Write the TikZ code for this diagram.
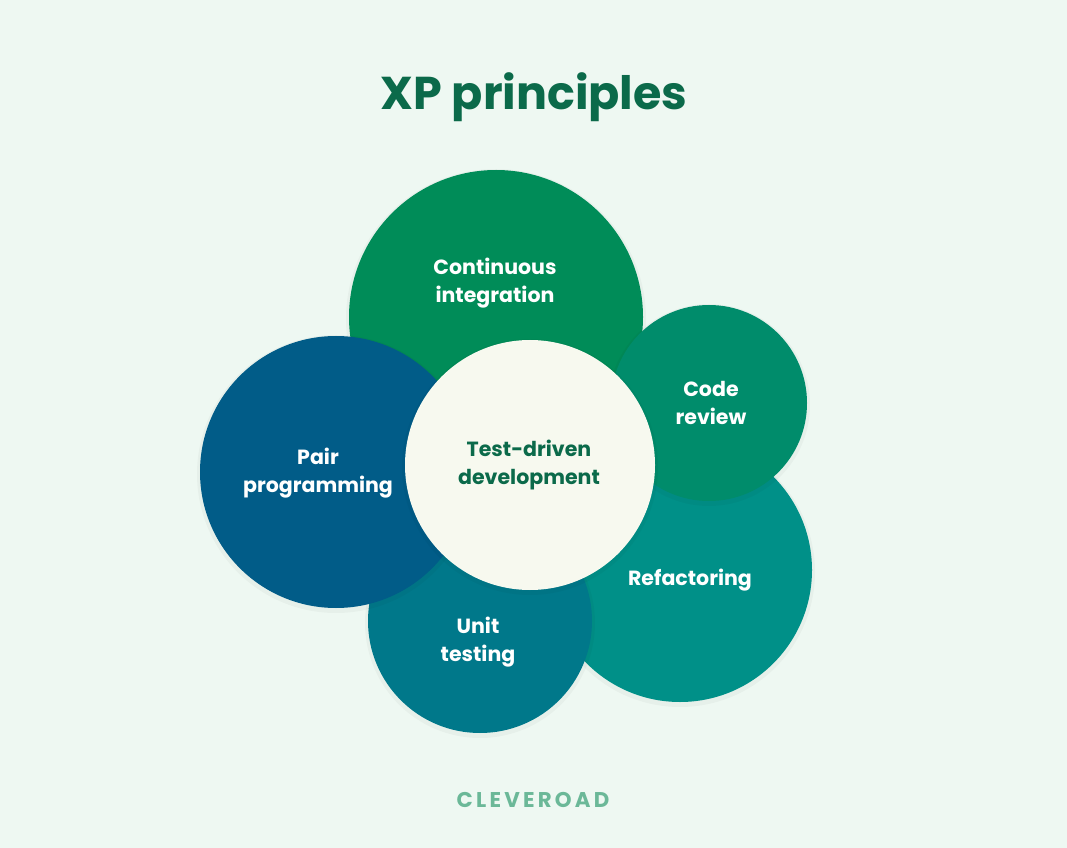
\documentclass[tikz,border=0pt]{standalone}
\usepackage{fontspec}
\setmainfont{Poppins}
\usepackage{xcolor}
\usetikzlibrary{positioning}

\definecolor{bgmint}{HTML}{EEF8F2}
\definecolor{titlegreen}{HTML}{0B6A4A}
\definecolor{cigreen}{HTML}{008C58}
\definecolor{crgreen}{HTML}{008C6B}
\definecolor{refteal}{HTML}{009088}
\definecolor{utteal}{HTML}{00788A}
\definecolor{ppblue}{HTML}{015C88}
\definecolor{tddcream}{HTML}{F7F9EF}
\definecolor{logogreen}{HTML}{6BB898}

\begin{document}
\begin{tikzpicture}[x=0.75pt, y=-0.75pt,
    lbl/.style={font=\bfseries\fontsize{15.4}{21.5}\selectfont, text=white, align=center},
    tddlbl/.style={lbl, text=titlegreen},
    shade/.style={fill=black, opacity=0.03}]
                        \fill[bgmint] (0, 0) rectangle (1067, 848);
                        \useasboundingbox (0, 0) rectangle (1067, 848);

                        \node (title) at (534, 97) {\bfseries\fontsize{34.5}{40}\selectfont\color{titlegreen}XP principles};

                        \fill[shade] (680, 572) circle (135);
                        \fill[refteal] (680, 570) circle (132);
                        \fill[shade] (496, 319) circle (150);
                        \fill[cigreen] (496, 317) circle (147);
                        \fill[shade] (709, 405) circle (101);
                        \fill[crgreen] (709, 403) circle (98);
                        \fill[shade] (480, 623) circle (115);
                        \fill[utteal] (480, 621) circle (112);
                        \fill[shade] (336, 474) circle (139);
                        \fill[ppblue] (336, 472) circle (136);
                        \fill[shade] (530, 467) circle (128);
                        \fill[tddcream] (530, 465) circle (125);

                        \node[lbl] (ci) at (495, 283) {Continuous\\integration};
                        \node[lbl] (cr) at (711, 403) {Code\\review};
                        \node[lbl] (ref) at (690, 580) {Refactoring};
                        \node[lbl] (ut) at (478, 642) {Unit\\testing};
                        \node[lbl] (pp) at (318, 473) {Pair\\programming};
                        \node[tddlbl] (tdd) at (529, 465) {Test-driven\\development};

                        \node (logo) at (533, 800) {\bfseries\fontsize{16}{18}\selectfont\addfontfeature{LetterSpace=15}\color{logogreen}CLEVEROAD};
                    \end{tikzpicture}
\end{document}
